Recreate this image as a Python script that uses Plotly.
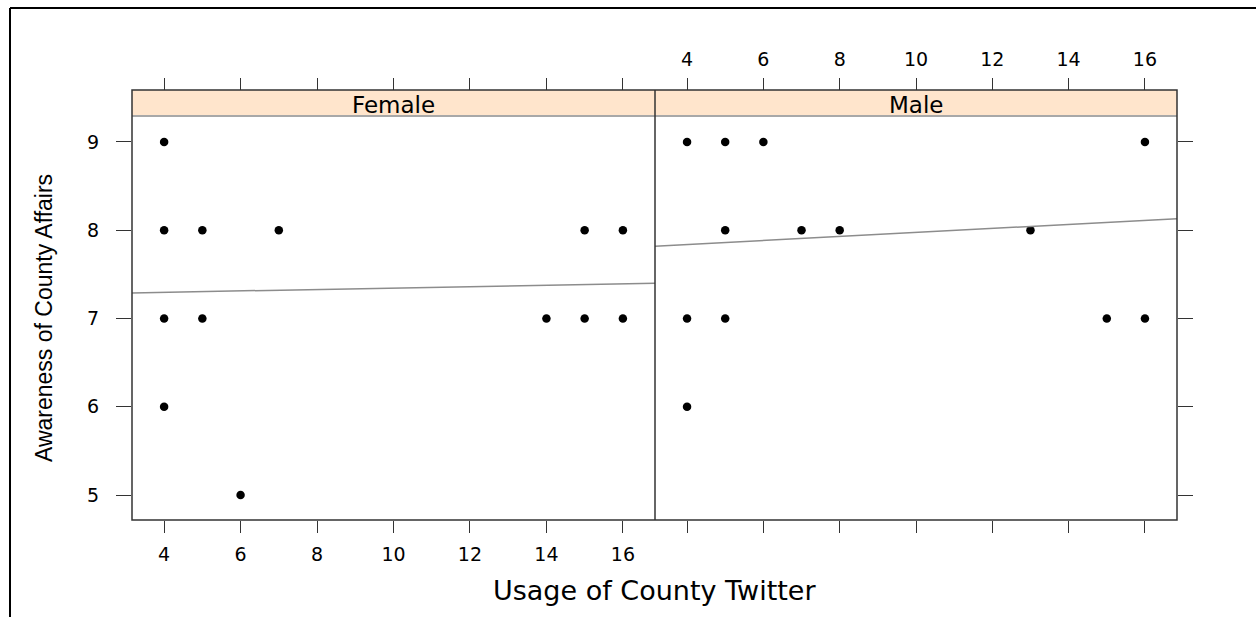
import plotly.graph_objects as go

# ---------------- data ----------------
panels = ["Female", "Male"]

female_usage = [4, 4, 5, 7, 15, 16, 4, 5, 14, 15, 16, 4, 6]
female_awareness = [9, 8, 8, 8, 8, 8, 7, 7, 7, 7, 7, 6, 5]

male_usage = [4, 5, 6, 16, 5, 7, 8, 13, 4, 5, 15, 16, 4]
male_awareness = [9, 9, 9, 9, 8, 8, 8, 8, 7, 7, 7, 7, 6]

# fitted regression line end points
fit_x = [3.16, 16.84]
female_fit = [7.29, 7.40]
male_fit = [7.82, 8.13]

x_ticks = [4, 6, 8, 10, 12, 14, 16]
y_ticks = [5, 6, 7, 8, 9]
x_range = [3.16, 16.84]
y_range = [4.717, 9.283]

x_title = "Usage of County Twitter"
y_title = "Awareness of County Affairs"

# ---------------- layout helpers ----------------
W, H = 1256, 617


def px(x):
    return x / W


def py(y):
    return (H - y) / H


F_L, MID, M_R = 132, 655, 1177
STRIP_T, PLOT_T, PLOT_B = 90, 117, 520

FONT = "DejaVu Sans"
TICKC = "#333333"
DOT = dict(color="black", size=8.5, symbol="circle")
LINEC = "#8c8c8c"

fig = go.Figure()

fig.add_trace(go.Scatter(x=female_usage, y=female_awareness, mode="markers",
                         marker=DOT, xaxis="x", yaxis="y", showlegend=False))
fig.add_trace(go.Scatter(x=fit_x, y=female_fit, mode="lines",
                         line=dict(color=LINEC, width=1.5), xaxis="x", yaxis="y",
                         showlegend=False))
fig.add_trace(go.Scatter(x=male_usage, y=male_awareness, mode="markers",
                         marker=DOT, xaxis="x2", yaxis="y2", showlegend=False))
fig.add_trace(go.Scatter(x=fit_x, y=male_fit, mode="lines",
                         line=dict(color=LINEC, width=1.5), xaxis="x2", yaxis="y2",
                         showlegend=False))
# invisible traces for the top axes
fig.add_trace(go.Scatter(x=[None], y=[None], xaxis="x3", yaxis="y", showlegend=False,
                         hoverinfo="skip"))
fig.add_trace(go.Scatter(x=[None], y=[None], xaxis="x4", yaxis="y2", showlegend=False,
                         hoverinfo="skip"))

common_x = dict(range=x_range, tickvals=x_ticks, ticks="outside", ticklen=12,
                tickwidth=1.2, tickcolor=TICKC, showgrid=False, zeroline=False,
                showline=False, tickfont=dict(family=FONT, size=19, color="black"))
common_y = dict(range=y_range, tickvals=y_ticks, ticks="outside", ticklen=15,
                tickwidth=1.2, tickcolor=TICKC, showgrid=False, zeroline=False,
                showline=False, tickfont=dict(family=FONT, size=19, color="black"))

ydom = [py(PLOT_B), py(PLOT_T)]

fig.update_layout(
    width=W, height=H,
    margin=dict(l=0, r=0, t=0, b=0),
    paper_bgcolor="white", plot_bgcolor="white",
    xaxis=dict(domain=[px(F_L), px(MID)], anchor="y", side="bottom",
               ticklabelstandoff=5, **common_x),
    xaxis2=dict(domain=[px(MID), px(M_R)], anchor="y2", side="bottom",
                showticklabels=False, **common_x),
    xaxis3=dict(overlaying="x", anchor="free", position=py(STRIP_T), side="top",
                showticklabels=False, **common_x),
    xaxis4=dict(overlaying="x2", anchor="free", position=py(STRIP_T), side="top",
                ticklabelstandoff=4, **common_x),
    yaxis=dict(domain=ydom, anchor="x", side="left", ticklabelstandoff=13, **common_y),
    yaxis2=dict(domain=ydom, anchor="x2", side="right", showticklabels=False,
                **common_y),
)

shapes = []
# strips
for x0, x1 in [(F_L, MID), (MID, M_R)]:
    shapes.append(dict(type="rect", xref="paper", yref="paper",
                       x0=px(x0), x1=px(x1), y0=py(PLOT_T), y1=py(STRIP_T),
                       fillcolor="#FFE5CC", line=dict(width=0), layer="below"))
# strip bottom grey line
shapes.append(dict(type="line", xref="paper", yref="paper", x0=px(F_L), x1=px(M_R),
                   y0=py(PLOT_T - 1), y1=py(PLOT_T - 1),
                   line=dict(color="#a8a8a8", width=2)))
# panel outlines
shapes.append(dict(type="rect", xref="paper", yref="paper",
                   x0=px(F_L), x1=px(M_R), y0=py(PLOT_B), y1=py(STRIP_T),
                   line=dict(color="#333333", width=1.5), fillcolor="rgba(0,0,0,0)"))
shapes.append(dict(type="line", xref="paper", yref="paper",
                   x0=px(MID), x1=px(MID), y0=py(PLOT_B), y1=py(STRIP_T),
                   line=dict(color="#333333", width=1.5)))
# outer frame (left and top edges)
shapes.append(dict(type="line", xref="paper", yref="paper",
                   x0=px(10), x1=px(10), y0=0, y1=py(8),
                   line=dict(color="black", width=2)))
shapes.append(dict(type="line", xref="paper", yref="paper",
                   x0=px(10), x1=1, y0=py(8), y1=py(8),
                   line=dict(color="black", width=2)))
fig.update_layout(shapes=shapes)

annotations = [
    dict(text=panels[0], xref="paper", yref="paper", x=px((F_L + MID) / 2),
         y=py((STRIP_T + PLOT_T) / 2 + 1), xanchor="center", yanchor="middle",
         showarrow=False, font=dict(family=FONT, size=23, color="black")),
    dict(text=panels[1], xref="paper", yref="paper", x=px((MID + M_R) / 2),
         y=py((STRIP_T + PLOT_T) / 2 + 1), xanchor="center", yanchor="middle",
         showarrow=False, font=dict(family=FONT, size=23, color="black")),
    dict(text=x_title, xref="paper", yref="paper", x=px(654), y=py(590),
         xanchor="center", yanchor="middle",
         showarrow=False, font=dict(family=FONT, size=27, color="black")),
    dict(text=y_title, xref="paper", yref="paper", x=px(44), y=py(318),
         xanchor="center", yanchor="middle",
         showarrow=False, textangle=-90,
         font=dict(family="Liberation Sans", size=23, color="black")),
]
fig.update_layout(annotations=annotations)

fig.write_html("out.html", config={"displayModeBar": False},
               post_script="document.body.style.margin='0';")
